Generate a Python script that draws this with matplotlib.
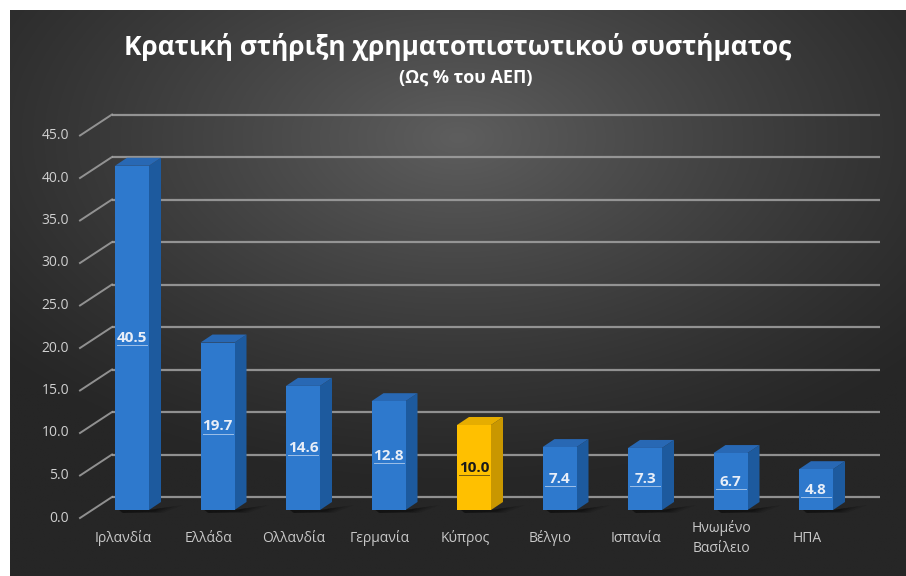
import numpy as np
import matplotlib
matplotlib.use("Agg")
import matplotlib.pyplot as plt
from matplotlib.patches import Polygon, Rectangle

plt.rcParams['font.family'] = ['Open Sans', 'DejaVu Sans']

# Data
countries = ["Ιρλανδία", "Ελλάδα", "Ολλανδία", "Γερμανία", "Κύπρος",
             "Βέλγιο", "Ισπανία", "Ηνωμένο\nΒασίλειο", "ΗΠΑ"]
values = [40.5, 19.7, 14.6, 12.8, 10.0, 7.4, 7.3, 6.7, 4.8]
highlight = "Κύπρος"
yticks = [0, 5, 10, 15, 20, 25, 30, 35, 40, 45]
title = "Κρατική στήριξη χρηματοπιστωτικού συστήματος"
subtitle = "(Ως % του ΑΕΠ)"

W, H = 906, 576
fig = plt.figure(figsize=(W / 100, H / 100), dpi=100, facecolor="white")

# Dark radial-gradient backdrop
bg = fig.add_axes([10 / W, 0, (W - 10) / W, (H - 10) / H])
bg.set_axis_off()
gx, gy = np.meshgrid(np.linspace(-1, 1, 600), np.linspace(-1, 1, 400))
r = np.sqrt(((gx - 0.0) / 1.35) ** 2 + ((gy + 0.55) / 1.25) ** 2)
shade = np.clip(1 - r, 0, 1) ** 1.2
lo, hi = np.array([38, 38, 38]) / 255, np.array([94, 94, 94]) / 255
img = lo[None, None, :] + (hi - lo)[None, None, :] * shade[..., None]
bg.imshow(img, extent=[0, 1, 0, 1], aspect="auto", origin="upper")

# Plot axes covering the figure; x = category slot, y = value
px_per_cat = 85.5
px_per_val = 8.5
x0_px, base_px = 132, 510
ax = fig.add_axes([0, 0, 1, 1])
ax.set_xlim(-x0_px / px_per_cat, (W - x0_px) / px_per_cat)
ax.set_ylim(-(H - base_px) / px_per_val, base_px / px_per_val)
ax.set_axis_off()

def dx(p):
    return p / px_per_cat

def dy(p):
    return p / px_per_val

# Back wall gridlines and the slanted lines to the tick labels
wall_x0, wall_x1 = dx(112 - x0_px), dx(880 - x0_px)
wall_dy = dy(13)
front_x, front_dy = dx(80 - x0_px), dy(-8)
grid_col = "#a3a3a3"
for v in yticks:
    ax.plot([wall_x0, wall_x1], [v + wall_dy, v + wall_dy], color=grid_col,
            lw=1.6, solid_capstyle="butt", zorder=2, alpha=0.85)
    ax.plot([front_x, wall_x0], [v + front_dy, v + wall_dy], color=grid_col,
            lw=1.4, zorder=2, alpha=0.85)
    ax.text(dx(69 - x0_px), v + front_dy, f"{v:.1f}", ha="right", va="center",
            color="#d0d0d0", fontsize=10, zorder=5)

# Bars drawn as boxes (front, side, top faces)
bw = dx(34)
depth_x, depth_y = dx(12), dy(8)
for i, (name, v) in enumerate(zip(countries, values)):
    if name == highlight:
        front, side, top, lab = "#ffc000", "#c99700", "#e6ad00", "#1a1a1a"
    else:
        front, side, top, lab = "#2e79cd", "#1d5a9e", "#2868b4", "#e8eef8"
    xl, xr = i - bw / 2, i + bw / 2
    # soft floor shadow
    for k, a in zip(range(4), [0.10, 0.12, 0.15, 0.2]):
        ext = dx(34 - 7 * k)
        ax.add_patch(Polygon([(xl + dx(4), 0), (xr, 0), (xr + ext, dy(5 - k)),
                              (xr + ext * 0.4, dy(-3 + k * 0.5)), (xl + dx(8), dy(-3))],
                             closed=True, fc="black", ec="none", alpha=a, zorder=3))
    ax.add_patch(Polygon([(xr, 0), (xr + depth_x, depth_y), (xr + depth_x, v + depth_y), (xr, v)],
                         closed=True, fc=side, ec="none", zorder=4))
    ax.add_patch(Polygon([(xl, v), (xl + depth_x, v + depth_y), (xr + depth_x, v + depth_y), (xr, v)],
                         closed=True, fc=top, ec="none", zorder=4))
    ax.add_patch(Rectangle((xl, 0), bw, v, fc=front, ec="none", zorder=4))
    # value label, underlined
    ax.text(i, v / 2, f"{v:.1f}", ha="center", va="center", color=lab,
            fontsize=11, fontweight="bold", zorder=6)
    ax.plot([i - dx(15), i + dx(15)], [v / 2 - dy(7.5), v / 2 - dy(7.5)], color=lab,
            lw=0.7, alpha=0.6, zorder=6)
    ax.text(i - dx(9), dy(-28), name, ha="center", va="center", color="#c8c8c8",
            fontsize=10, linespacing=1.5, zorder=5)

fig.text(458 / W, 1 - 47 / H, title, ha="center", va="center", color="white",
         fontsize=19, fontweight="bold")
fig.text(466 / W, 1 - 78 / H, subtitle, ha="center", va="center", color="white",
         fontsize=13, fontweight="bold")

fig.savefig("out.png", dpi=100, facecolor="white")
